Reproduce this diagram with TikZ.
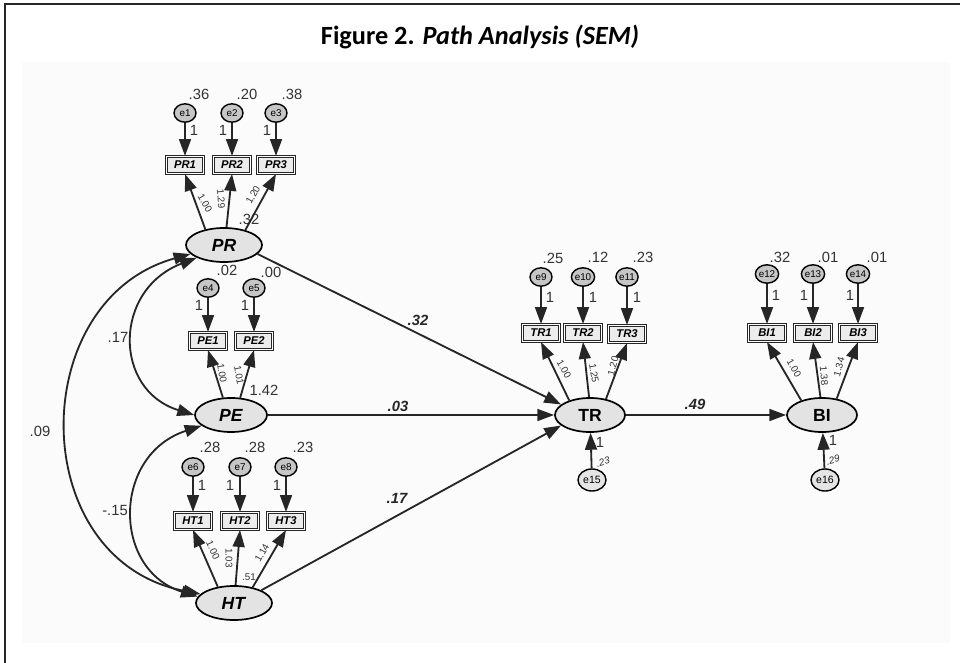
\documentclass[tikz,border=0pt]{standalone}
\usepackage{fontspec}
\setmainfont{Liberation Sans}
\newfontfamily\titlefont{Carlito}
\usetikzlibrary{arrows.meta, shapes.geometric}

\begin{document}
\begin{tikzpicture}[x={(0.025cm,0)}, y={(0,-0.025cm)},
        latent/.style={ellipse, draw, line width=1.2pt, fill=gray!22, minimum width=1.9cm, minimum height=0.85cm, inner sep=0pt, font=\fontsize{12.5}{12.5}\selectfont\bfseries},
        item/.style={rectangle, draw=black!85, line width=0.9pt, double=white, double distance=0.5pt, fill=gray!15, minimum width=0.92cm, minimum height=0.42cm, inner sep=0pt, font=\fontsize{8}{8}\selectfont\bfseries\itshape},
        err/.style={ellipse, draw, line width=1pt, fill=gray!45, minimum width=0.55cm, minimum height=0.46cm, inner sep=0pt, font=\fontsize{7}{7}\selectfont},
        bigerr/.style={err, fill=gray!20, minimum width=0.7cm, minimum height=0.55cm, font=\fontsize{7.5}{7.5}\selectfont},
        path/.style={-{Triangle[length=12pt,width=8.5pt]}, line width=1.3pt, black!85},
        cov/.style={{Triangle[length=12pt,width=8.5pt]}-{Triangle[length=12pt,width=8.5pt]}, line width=1.3pt, black!85},
        num/.style={inner sep=0.5pt, text=black!80, font=\fontsize{10.5}{10.5}\selectfont},
        load/.style={inner sep=0.3pt, text=black!80, font=\fontsize{7}{7}\selectfont},
        coef/.style={inner sep=0.5pt, text=black!85, font=\fontsize{10.5}{10.5}\selectfont\bfseries\itshape}]
        \useasboundingbox (0,0) rectangle (960,663);
        \fill[black!1.5] (22,62) rectangle (950,643);
        \draw[line width=2pt, black!85] (5,663) -- (5,4) -- (960,4);

        \node (title) at (480,37) {\titlefont\fontsize{18.7}{18.7}\selectfont\bfseries Figure 2. \textit{Path Analysis (SEM)}};

        % latent variables
        \node[latent] (PR) at (224,245) {\textit{PR}};
        \node[latent, minimum width=1.8cm] (PE) at (231,415) {\textit{PE}};
        \node[latent] (HT) at (234,603) {\textit{HT}};
        \node[latent, minimum width=1.75cm] (TR) at (590,415) {TR};
        \node[latent, minimum width=1.75cm] (BI) at (822,415) {BI};

        % PR
        \node[item] (PR1) at (185,165) {PR1};
        \node[item] (PR2) at (232,165) {PR2};
        \node[item] (PR3) at (276,165) {PR3};
        \node[err] (e1) at (185,113) {e1};
        \node[err] (e2) at (232,113) {e2};
        \node[err] (e3) at (276,113) {e3};
        \node[num] (v1) at (199,94) {.36};
        \node[num] (v2) at (247,94) {.20};
        \node[num] (v3) at (292,94) {.38};
        \node[num] (o1) at (194,130) {1};
        \node[num] (o2) at (223,130) {1};
        \node[num] (o3) at (267,130) {1};
        \node[load, rotate=-60] (l1) at (205,203) {1.00};
        \node[load, rotate=-85] (l2) at (221,199) {1.29};
        \node[load, rotate=60] (l3) at (253,195) {1.20};
        \node[num] (r1) at (249,219) {.32};
        \node[num] (r2) at (227,270) {.02};
        \node[num] (r3) at (271,272) {.00};

        % PE
        \node[item] (PE1) at (208,341) {PE1};
        \node[item] (PE2) at (254,341) {PE2};
        \node[err] (e4) at (208,288) {e4};
        \node[err] (e5) at (254,288) {e5};
        \node[num] (o4) at (199,305) {1};
        \node[num] (o5) at (245,305) {1};
        \node[load, rotate=-80] (l4) at (222,373) {1.00};
        \node[load, rotate=-80] (l5) at (239,375) {1.01};
        \node[num] (r4) at (264,390) {1.42};

        % HT
        \node[item] (HT1) at (193,521) {HT1};
        \node[item] (HT2) at (240,521) {HT2};
        \node[item] (HT3) at (286,521) {HT3};
        \node[err] (e6) at (193,467) {e6};
        \node[err] (e7) at (240,467) {e7};
        \node[err] (e8) at (286,467) {e8};
        \node[num] (v6) at (210,447) {.28};
        \node[num] (v7) at (255,447) {.28};
        \node[num] (v8) at (303,447) {.23};
        \node[num] (o6) at (202,485) {1};
        \node[num] (o7) at (230,485) {1};
        \node[num] (o8) at (277,485) {1};
        \node[load, rotate=-65] (l6) at (213,550) {1.00};
        \node[load, rotate=-90] (l7) at (229,558) {1.03};
        \node[load] (r5) at (249,577) {.51};
        \node[load, rotate=60] (l8) at (262,553) {1.14};

        % TR
        \node[item] (TR1) at (541,333) {TR1};
        \node[item] (TR2) at (583,333) {TR2};
        \node[item] (TR3) at (627,334) {TR3};
        \node[err] (e9) at (541,277) {e9};
        \node[err] (e10) at (583,277) {e10};
        \node[err] (e11) at (627,277) {e11};
        \node[num] (v9) at (553,258) {.25};
        \node[num] (v10) at (598,257) {.12};
        \node[num] (v11) at (643,257) {.23};
        \node[num] (o9) at (550,297) {1};
        \node[num] (o10) at (593,297) {1};
        \node[num] (o11) at (637,297) {1};
        \node[load, rotate=-60] (l9) at (564,369) {1.00};
        \node[load, rotate=-80] (l10) at (594,373) {1.25};
        \node[load, rotate=75] (l11) at (613,366) {1.20};
        \node[bigerr] (e15) at (592,480) {e15};
        \node[num] (o15) at (600,442) {1};
        \node[load, rotate=15] (v15) at (603,462) {\itshape .23};

        % BI
        \node[item] (BI1) at (767,333) {BI1};
        \node[item] (BI2) at (813,333) {BI2};
        \node[item] (BI3) at (858,333) {BI3};
        \node[err] (e12) at (767,274) {e12};
        \node[err] (e13) at (813,274) {e13};
        \node[err] (e14) at (858,274) {e14};
        \node[num] (v12) at (780,257) {.32};
        \node[num] (v13) at (828,257) {.01};
        \node[num] (v14) at (877,257) {.01};
        \node[num] (o12) at (776,295) {1};
        \node[num] (o13) at (804,295) {1};
        \node[num] (o14) at (850,295) {1};
        \node[load, rotate=-60] (l12) at (794,368) {1.00};
        \node[load, rotate=-85] (l13) at (824,376) {1.38};
        \node[load, rotate=75] (l14) at (839,367) {1.34};
        \node[bigerr] (e16) at (825,480) {e16};
        \node[num] (o16) at (833,440) {1};
        \node[load, rotate=15] (v16) at (833,460) {\itshape .29};

        % coefficients
        \node[coef] (s1) at (418,320) {.32};
        \node[coef] (s2) at (398,406) {.03};
        \node[coef] (s3) at (397,498) {.17};
        \node[coef] (s4) at (695,404) {.49};
        \node[num] (c1) at (118,337) {.17};
        \node[num] (c2) at (115,510) {-.15};
        \node[num] (c3) at (40,431) {.09};

        \draw[path] (e1) -- (PR1);
        \draw[path] (e2) -- (PR2);
        \draw[path] (e3) -- (PR3);
        \draw[path] (PR.140) -- (PR1.south);
        \draw[path] (PR.82) -- (PR2.south);
        \draw[path] (PR.35) -- (PR3.south);

        \draw[path] (e4) -- (PE1);
        \draw[path] (e5) -- (PE2);
        \draw[path] (PE.115) -- (PE1.south);
        \draw[path] (PE.62) -- (PE2.south);

        \draw[path] (e6) -- (HT1);
        \draw[path] (e7) -- (HT2);
        \draw[path] (e8) -- (HT3);
        \draw[path] (HT.135) -- (HT1.south);
        \draw[path] (HT.85) -- (HT2.south);
        \draw[path] (HT.40) -- (HT3.south);

        \draw[path] (e9) -- (TR1);
        \draw[path] (e10) -- (TR2);
        \draw[path] (e11) -- (TR3);
        \draw[path] (TR.145) -- (TR1.south);
        \draw[path] (TR.93) -- (TR2.south);
        \draw[path] (TR.45) -- (TR3.south);
        \draw[path] (e15) -- (TR);

        \draw[path] (e12) -- (BI1);
        \draw[path] (e13) -- (BI2);
        \draw[path] (e14) -- (BI3);
        \draw[path] (BI.145) -- (BI1.south);
        \draw[path] (BI.95) -- (BI2.south);
        \draw[path] (BI.48) -- (BI3.south);
        \draw[path] (e16) -- (BI);

        \draw[path] (PR.345) -- (TR.160);
        \draw[path] (PE) -- (TR);
        \draw[path] (HT.25) -- (TR.200);
        \draw[path] (TR) -- (BI);

        \draw[cov] (PR.205) .. controls (113,290) and (113,390) .. (PE.west);
        \draw[cov] (PE.200) .. controls (112,455) and (112,570) .. (HT.170);
        \draw[cov] (PR.195) .. controls (25,300) and (25,560) .. (HT.165);
    \end{tikzpicture}
\end{document}
